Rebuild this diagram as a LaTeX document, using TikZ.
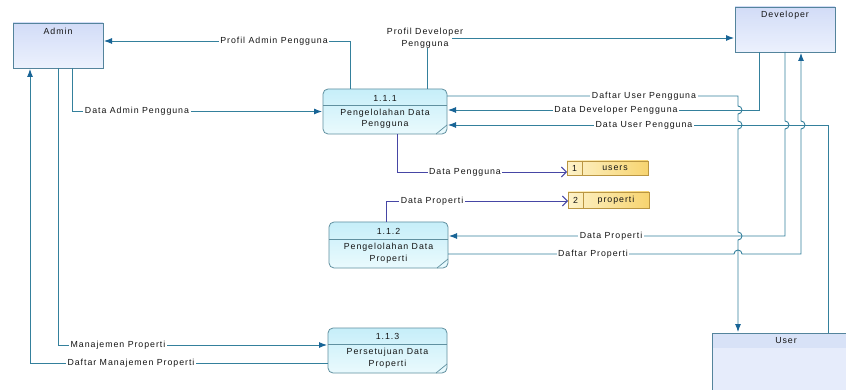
\documentclass[tikz,border=0pt]{standalone}
\usepackage{fontspec}
\newfontfamily\dfdfont[LetterSpace=11]{Liberation Sans}
\usetikzlibrary{arrows.meta,calc}

\definecolor{flowc}{RGB}{52,128,156}
\definecolor{tipc}{RGB}{24,100,150}
\definecolor{storec}{RGB}{70,70,165}
\definecolor{entborder}{RGB}{84,132,156}
\definecolor{enttop}{RGB}{210,220,247}
\definecolor{entbot}{RGB}{236,241,253}
\definecolor{userfill}{RGB}{230,236,251}
\definecolor{entband}{RGB}{216,226,247}
\definecolor{procborder}{RGB}{96,144,160}
\definecolor{proctop}{RGB}{198,238,249}
\definecolor{procbot}{RGB}{234,250,253}
\definecolor{stborder}{RGB}{186,150,66}
\definecolor{stleft}{RGB}{253,242,200}
\definecolor{stright}{RGB}{247,212,112}
\definecolor{txtc}{RGB}{20,20,20}

\tikzset{
  dfdtext/.style={font=\dfdfont\fontsize{8.8}{11.5}\selectfont, text=txtc, inner sep=0pt},
  entity/.style={draw=entborder, line width=0.8pt, top color=enttop, bottom color=entbot,
    outer sep=0pt, inner sep=0pt},
  proc/.style={draw=procborder, line width=0.8pt, rounded corners=5pt, top color=proctop,
    bottom color=procbot, outer sep=0pt, inner sep=0pt},
  procline/.style={draw=procborder, line width=0.7pt},
  store/.style={draw=stborder, line width=0.8pt, left color=stleft, right color=stright,
    outer sep=0pt, inner sep=0pt},
  flow/.style={draw=flowc, line width=0.9pt, shorten >=1pt,
    -{Latex[length=8pt,width=6pt,color=tipc]}},
  line/.style={draw=flowc, line width=0.9pt},
  storeflow/.style={draw=storec, line width=0.9pt, -{Straight Barb[length=5pt,width=10pt]}},
  flowlabel/.style={dfdtext, fill=white, inner xsep=1.5pt, inner ysep=1pt},
}

\begin{document}
\begin{tikzpicture}[x=1pt, y=-1pt]
\useasboundingbox (0,0) rectangle (846,390);
\fill[white] (0,0) rectangle (846,390);

% external entities
\node[entity, minimum width=90pt, minimum height=45pt] (admin) at (58,45.5) {};
\node[dfdtext] (admintxt) at (58,31) {Admin};
\node[entity, minimum width=100pt, minimum height=45pt] (dev) at (785,29.5) {};
\node[dfdtext] (devtxt) at (785,15) {Developer};
\node[entity, fill=userfill, minimum width=148pt, minimum height=72pt, top color=userfill, bottom color=userfill] (user) at (786,369) {};
\fill[entband] ($(user.north west)+(0.4,0.4)$) rectangle ($(user.north east)+(-0.4,15)$);
\draw[entborder, line width=0.8pt] (user.south west) -- (user.north west) -- (user.north east);
\node[dfdtext] (usertxt) at (786,341) {User};

% processes
\node[proc, minimum width=124pt, minimum height=45pt] (p1) at (385,111.5) {};
\draw[procline] ($(p1.north west)+(0,16)$) -- ($(p1.north east)+(0,16)$);
\draw[procline] ($(p1.south east)+(-11,0)$) -- ($(p1.south east)+(0,-9)$);
\node[dfdtext] (p1id) at (385,98) {1.1.1};
\node[dfdtext, align=center] (p1name) at (385,118.5) {Pengelolahan Data\\Pengguna};

\node[proc, minimum width=119pt, minimum height=46pt] (p2) at (388.5,245) {};
\draw[procline] ($(p2.north west)+(0,17)$) -- ($(p2.north east)+(0,17)$);
\draw[procline] ($(p2.south east)+(-11,0)$) -- ($(p2.south east)+(0,-9)$);
\node[dfdtext] (p2id) at (388.5,231) {1.1.2};
\node[dfdtext, align=center] (p2name) at (388.5,253) {Pengelolahan Data\\Properti};

\node[proc, minimum width=119pt, minimum height=45pt] (p3) at (387.5,350.5) {};
\draw[procline] ($(p3.north west)+(0,16)$) -- ($(p3.north east)+(0,16)$);
\draw[procline] ($(p3.south east)+(-11,0)$) -- ($(p3.south east)+(0,-9)$);
\node[dfdtext] (p3id) at (387.5,336) {1.1.3};
\node[dfdtext, align=center] (p3name) at (387.5,358) {Persetujuan Data\\Properti};

% data stores
\node[store, minimum width=81pt, minimum height=14pt] (st1) at (607.5,168) {};
\draw[stborder, line width=0.7pt] ($(st1.north west)+(15,0)$) -- ($(st1.south west)+(15,0)$);
\node[dfdtext] (st1no) at (574.5,168) {1};
\node[dfdtext] (st1name) at (615,168) {users};
\node[store, minimum width=81pt, minimum height=16pt] (st2) at (608.5,200) {};
\draw[stborder, line width=0.7pt] ($(st2.north west)+(15,0)$) -- ($(st2.south west)+(15,0)$);
\node[dfdtext] (st2no) at (575.5,200) {2};
\node[dfdtext] (st2name) at (616,200) {properti};

% flows between Admin and the processes
\draw[flow] ($(p1.north west)+(27,0)$) -- (350,41) -- ($(admin.east)+(0,-4.5)$);
\draw[flow] ($(admin.south)+(14,0)$) -- (72,111.5) -- (p1.west);
\draw[flow] (admin.south) -- (58,345) -- ($(p3.west)+(0,-5.5)$);
\draw[flow] ($(p3.west)+(0,12.5)$) -- (30,363) -- ($(admin.south west)+(17,0)$);

% Profil Developer Pengguna
\node[dfdtext, align=center] (pdlbl) at (425,38) {Profil Developer\\Pengguna};
\coordinate (pdfoot) at ($(p1.north west)+(104,0)$);
\draw[line] (pdfoot) -- (pdfoot |- pdlbl.south);
\coordinate (pdstart) at (452,38);
\draw[flow] (pdstart) -- (pdstart -| dev.west);

% flows between Developer / User and process 1.1.1
\draw[flow] ($(p1.east)+(0,-15.5)$) -- (738,96) -- (738,106)
  arc[start angle=-90, end angle=90, radius=4] -- (738,121)
  arc[start angle=-90, end angle=90, radius=4] -- (738,232)
  arc[start angle=-90, end angle=90, radius=4] -- ($(user.north west)+(26,0)$);
\draw[flow] ($(dev.south west)+(24,0)$) -- (759,110) -- ($(p1.east)+(0,-1.5)$);
\draw[flow] ($(user.north west)+(116,0)$) -- (828,125) -- ($(p1.east)+(0,13.5)$);

% flows between Developer and process 1.1.2
\draw[flow] ($(dev.south west)+(50,0)$) -- (785,121)
  arc[start angle=-90, end angle=90, radius=4] -- (785,236) -- ($(p2.east)+(0,-9)$);
\draw[flow] ($(p2.east)+(0,9)$) -- (734,254)
  arc[start angle=180, end angle=360, radius=4] -- (801,254) -- (801,129)
  arc[start angle=90, end angle=-90, radius=4] -- ($(dev.south west)+(66,0)$);

% flows into the data stores
\draw[storeflow] ($(p1.south west)+(74,0)$) -- (397,172) -- ($(st1.west)+(0,4)$);
\draw[storeflow] ($(p2.north west)+(57,0)$) -- (386,201) -- ($(st2.west)+(0,1)$);

% flow labels
\node[flowlabel] (lpa) at (274,41) {Profil Admin Pengguna};
\node[flowlabel] (lda) at (137,111.5) {Data Admin Pengguna};
\node[flowlabel] (ldu1) at (644,96) {Daftar User Pengguna};
\node[flowlabel] (lddp) at (616,110) {Data Developer Pengguna};
\node[flowlabel] (ldu2) at (644,125) {Data User Pengguna};
\node[flowlabel] (ldpg) at (465,172) {Data Pengguna};
\node[flowlabel] (ldps) at (432,201) {Data Properti};
\node[flowlabel] (ldpd) at (611,236) {Data Properti};
\node[flowlabel] (ldfp) at (593,254) {Daftar Properti};
\node[flowlabel] (lmp) at (118,345) {Manajemen Properti};
\node[flowlabel] (ldmp) at (131,363) {Daftar Manajemen Properti};
\end{tikzpicture}
\end{document}
